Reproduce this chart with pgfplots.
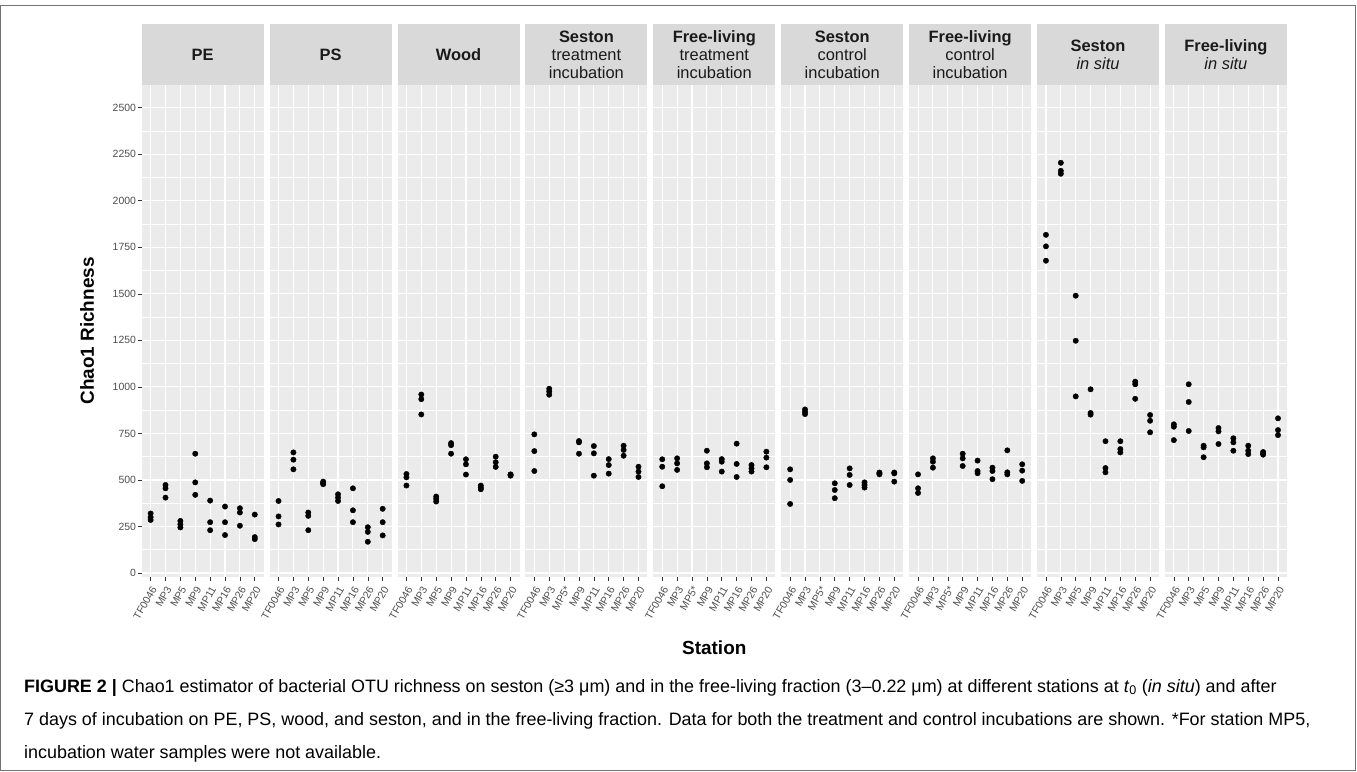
\documentclass[border=0pt]{standalone}
\usepackage{pgfplots}
\pgfplotsset{compat=1.18}
\usepackage{fontspec}
\setmainfont{Liberation Sans}
\definecolor{panelbg}{HTML}{EBEBEB}
\definecolor{stripbg}{HTML}{D9D9D9}
\definecolor{tickgray}{HTML}{4D4D4D}
\definecolor{axgray}{HTML}{333333}
\definecolor{striptext}{HTML}{1A1A1A}

\pgfplotsset{
  facet/.style={
    width=122bp, height=492bp, scale only axis,
    anchor=north west,
    xmin=0.4, xmax=8.6, ymin=-21.5, ymax=2622,
    axis background/.style={fill=panelbg},
    axis line style={draw=none},
    xtick={1,...,8},
    ytick={0,250,...,2500},
    minor ytick={125,375,...,2375},
    grid=both,
    major grid style={white, line width=1.1bp},
    minor grid style={white, line width=0.55bp},
    tick align=outside,
    major tick length=3.5bp,
    minor tick length=0pt,
    tick style={axgray, line width=0.6bp},
    xtick pos=left, ytick pos=left,
    /pgf/number format/assume math mode=true,
    /pgf/number format/1000 sep={},
    xticklabel style={yshift=-4bp, rotate=60, anchor=north east, inner sep=0.5bp,
      font=\fontsize{10.5}{12}\selectfont, text=tickgray},
    yticklabel style={font=\fontsize{10.5}{12}\selectfont, text=tickgray, inner sep=2bp},
    clip=false,
  },
  inner/.style={yticklabels={}, ytick style={draw=none}},
  dots/.style={only marks, mark=*, mark size=2.7bp, black},
  stn/.style={xticklabels={TF0046,MP3,MP5,MP9,MP11,MP16,MP26,MP20}},
  stnstar/.style={xticklabels={TF0046,MP3,MP5*,MP9,MP11,MP16,MP26,MP20}},
}

\newcommand{\strip}[2]{%
  \fill[stripbg] (#1bp,-24.3bp) rectangle ++(122bp,-60.7bp);
  \node[align=center, font=\fontsize{16.5}{18}\selectfont, text=striptext, inner sep=0pt]
    at (#1bp+61bp,-54.6bp) {#2};
}

\begin{document}
\begin{tikzpicture}[x=1bp,y=1bp]
\path[use as bounding box] (0,0) rectangle (1357,-771);
\draw[line width=1bp, black!55] (0.8,-6) rectangle (1355.5,-770.2);

% PE
\begin{axis}[facet, stn, at={(141.7bp,-85bp)}]
\addplot[dots] coordinates {
(1,320)(1,300)(1,285)
(2,473)(2,455)(2,405)
(3,280)(3,262)(3,245)
(4,641)(4,487)(4,420)
(5,389)(5,273)(5,230)
(6,357)(6,273)(6,204)
(7,348)(7,325)(7,254)
(8,314)(8,193)(8,182)
};
\end{axis}

% PS
\begin{axis}[facet, inner, stn, at={(269.6bp,-85bp)}]
\addplot[dots] coordinates {
(1,387)(1,304)(1,261)
(2,648)(2,609)(2,557)
(3,325)(3,307)(3,230)
(4,491)(4,484)(4,477)
(5,423)(5,405)(5,387)
(6,455)(6,337)(6,273)
(7,246)(7,221)(7,168)
(8,345)(8,273)(8,202)
};
\end{axis}

% Wood
\begin{axis}[facet, inner, stn, at={(397.5bp,-85bp)}]
\addplot[dots] coordinates {
(1,532)(1,514)(1,470)
(2,959)(2,934)(2,852)
(3,411)(3,398)(3,384)
(4,698)(4,687)(4,641)
(5,611)(5,584)(5,529)
(6,470)(6,459)(6,450)
(7,625)(7,595)(7,570)
(8,530)(8,527)(8,523)
};
\end{axis}

% Seston treatment incubation
\begin{axis}[facet, inner, stnstar, at={(525.4bp,-85bp)}]
\addplot[dots] coordinates {
(1,745)(1,655)(1,548)
(2,990)(2,975)(2,958)
(4,709)(4,702)(4,641)
(5,682)(5,643)(5,523)
(6,612)(6,580)(6,534)
(7,684)(7,661)(7,630)
(8,571)(8,545)(8,516)
};
\end{axis}

% Free-living treatment incubation
\begin{axis}[facet, inner, stnstar, at={(653.3bp,-85bp)}]
\addplot[dots] coordinates {
(1,611)(1,571)(1,466)
(2,616)(2,589)(2,554)
(4,657)(4,589)(4,568)
(5,612)(5,598)(5,545)
(6,695)(6,586)(6,516)
(7,580)(7,562)(7,545)
(8,652)(8,620)(8,568)
};
\end{axis}

% Seston control incubation
\begin{axis}[facet, inner, stnstar, at={(781.2bp,-85bp)}]
\addplot[dots] coordinates {
(1,557)(1,500)(1,371)
(2,879)(2,866)(2,854)
(4,482)(4,446)(4,402)
(5,562)(5,527)(5,473)
(6,487)(6,473)(6,459)
(7,540)(7,535)(7,530)
(8,540)(8,535)(8,491)
};
\end{axis}

% Free-living control incubation
\begin{axis}[facet, inner, stnstar, at={(909.1bp,-85bp)}]
\addplot[dots] coordinates {
(1,530)(1,455)(1,430)
(2,616)(2,598)(2,566)
(4,641)(4,616)(4,575)
(5,604)(5,548)(5,536)
(6,566)(6,548)(6,504)
(7,659)(7,541)(7,530)
(8,584)(8,550)(8,495)
};
\end{axis}

% Seston in situ
\begin{axis}[facet, inner, stn, at={(1037bp,-85bp)}]
\addplot[dots] coordinates {
(1,1817)(1,1755)(1,1678)
(2,2204)(2,2161)(2,2145)
(3,1490)(3,1248)(3,949)
(4,987)(4,860)(4,851)
(5,708)(5,564)(5,541)
(6,708)(6,666)(6,648)
(7,1028)(7,1014)(7,936)
(8,849)(8,818)(8,756)
};
\end{axis}

% Free-living in situ
\begin{axis}[facet, inner, stn, at={(1164.9bp,-85bp)}]
\addplot[dots] coordinates {
(1,799)(1,786)(1,714)
(2,1014)(2,919)(2,763)
(3,684)(3,675)(3,622)
(4,779)(4,761)(4,693)
(5,724)(5,702)(5,657)
(6,684)(6,657)(6,639)
(7,650)(7,643)(7,636)
(8,831)(8,768)(8,741)
};
\end{axis}

\strip{141.7}{\textbf{PE}}
\strip{269.6}{\textbf{PS}}
\strip{397.5}{\textbf{Wood}}
\strip{525.4}{\textbf{Seston}\\treatment\\incubation}
\strip{653.3}{\textbf{Free-living}\\treatment\\incubation}
\strip{781.2}{\textbf{Seston}\\control\\incubation}
\strip{909.1}{\textbf{Free-living}\\control\\incubation}
\strip{1037}{\textbf{Seston}\\\textit{in situ}}
\strip{1164.9}{\textbf{Free-living}\\\textit{in situ}}

\node[rotate=90, font=\fontsize{19}{22}\selectfont\bfseries] at (87,-331) {Chao1 Richness};
\node[font=\fontsize{19}{22}\selectfont\bfseries] at (714.3,-648) {Station};

\node[anchor=base west, inner sep=0pt] at (24,-692) {\fontsize{18}{20}\selectfont\textbf{FIGURE 2 |} Chao1 estimator of bacterial OTU richness on seston (≥3 μm) and in the free-living fraction (3–0.22 μm) at different stations at \textit{t}\textsubscript{0} (\textit{in situ}) and after};
\node[anchor=base west, inner sep=0pt] at (24,-725) {\fontsize{18}{20}\selectfont 7 days of incubation on PE, PS, wood, and seston, and in the free-living fraction. Data for both the treatment and control incubations are shown. *For station MP5,};
\node[anchor=base west, inner sep=0pt] at (24,-758) {\fontsize{18}{20}\selectfont incubation water samples were not available.};
\end{tikzpicture}
\end{document}
